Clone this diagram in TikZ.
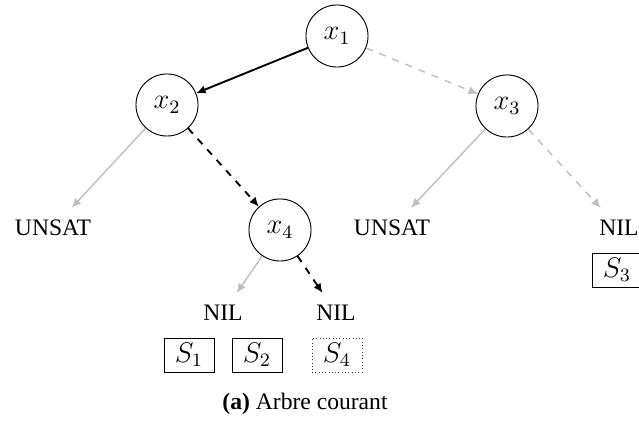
\documentclass[tikz,border=0pt]{standalone}
\usepackage{fontspec}
\setmainfont{Liberation Serif}
\usepackage{tikz}
\usetikzlibrary{arrows.meta}

\begin{document}
\begin{tikzpicture}[x=0.4237pt, y=-0.4237pt, every node/.style={font=\normalsize}, var/.style={draw,circle,minimum size=26.3pt,inner sep=0pt,font=\large}, leaf/.style={inner sep=5pt}, sol/.style={draw,minimum width=21.2pt,minimum height=14.4pt,inner sep=0pt,font=\large}, arr/.style={-{Latex[length=4pt,width=3.6pt]},thick}, off/.style={-{Latex[length=4pt,width=3.6pt]},semithick,black!25}]
\useasboundingbox (0,0) rectangle (639,421);
\node[var] (x1) at (337,36) {$x_1$};
\node[var] (x2) at (167,105) {$x_2$};
\node[var] (x3) at (507,106) {$x_3$};
\node[var] (x4) at (280,230) {$x_4$};
\node[leaf] (unsatl) at (53,228) {UNSAT};
\node[leaf] (unsatr) at (392,228) {UNSAT};
\node[leaf] (nilr) at (619,228) {NIL};
\node[leaf] (nila) at (223,313) {NIL};
\node[leaf] (nilb) at (336,313) {NIL};
\node[sol] (s3) at (617,270) {$S_3$};
\node[sol] (s1) at (189,355) {$S_1$};
\node[sol] (s2) at (257,355) {$S_2$};
\node[sol,draw=black!80,densely dotted] (s4) at (337,355) {$S_4$};
\draw[arr] (x1)--(x2);
\draw[off,dashed] (x1)--(x3);
\draw[off] (x2)--(unsatl);
\draw[arr,dashed] (x2)--(x4);
\draw[off] (x3)--(unsatr);
\draw[off,dashed] (x3)--(nilr);
\draw[off] (x4)--(nila);
\draw[arr,dashed] (x4)--(nilb);
\node (caption) at (305,404) {\textbf{(a)} Arbre courant};
\end{tikzpicture}
\end{document}
